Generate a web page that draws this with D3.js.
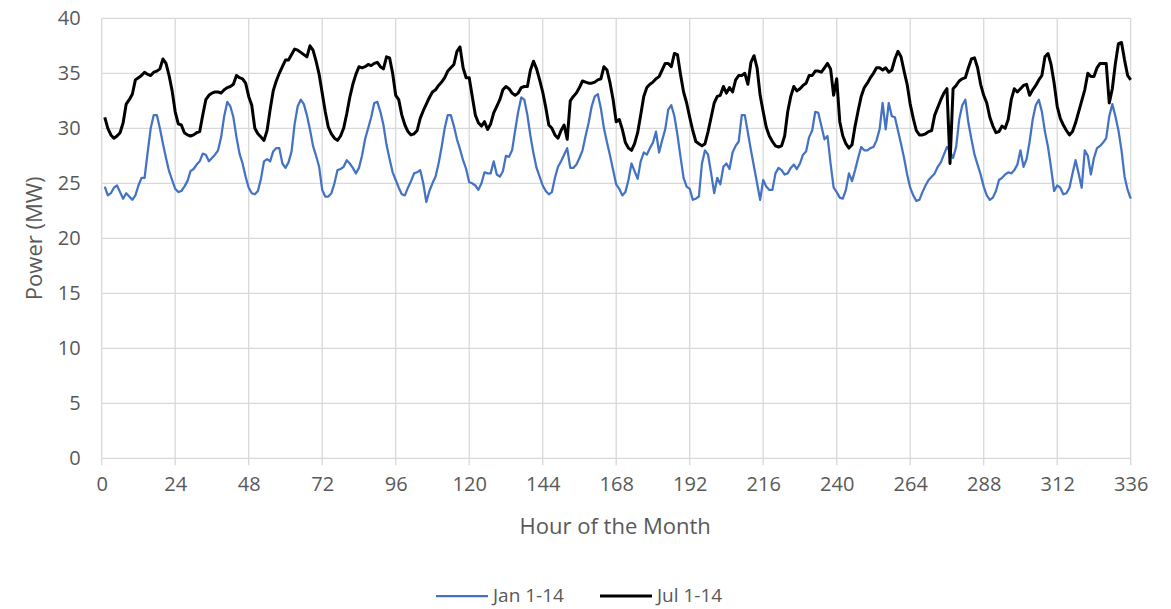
<!DOCTYPE html>
<html>
<head>
<meta charset="utf-8">
<script src="https://cdn.jsdelivr.net/npm/d3@7"></script>
<style>
  html, body { margin: 0; padding: 0; background: #fff; }
  svg { display: block; }
  text { font-family: "Open Sans", sans-serif; fill: #595959; }
</style>
</head>
<body>
<svg id="chart" width="1171" height="609"></svg>
<script>
// ---- data (hour 1..336) ----
const janSeries = [
  24.7,23.9,24.1,24.6,24.8,24.2,23.6,24.1,23.8,23.5,23.9,24.8,25.5,25.5,27.8,30.0,31.2,31.2,30.0,28.6,27.3,26.1,25.3,24.5,
  24.2,24.3,24.7,25.2,26.1,26.3,26.7,27.0,27.7,27.6,27.0,27.3,27.6,28.0,29.2,31.1,32.4,32.0,31.0,29.2,27.7,26.8,25.6,24.6,
  24.1,24.0,24.3,25.4,27.0,27.2,27.0,27.9,28.2,28.2,26.8,26.4,26.9,27.9,30.4,32.0,32.6,32.2,31.2,29.9,28.4,27.5,26.5,24.4,
  23.8,23.8,24.1,25.0,26.2,26.3,26.5,27.1,26.8,26.4,25.9,26.4,27.5,29.0,30.0,31.0,32.3,32.4,31.5,30.3,28.5,27.2,26.0,25.3,
  24.6,24.0,23.9,24.6,25.2,25.9,26.0,26.2,25.0,23.3,24.3,25.0,25.6,26.8,28.3,30.0,31.2,31.2,30.2,29.0,28.1,27.1,26.3,25.1,
  25.0,24.8,24.4,25.0,26.0,25.9,25.9,27.0,25.8,25.6,26.1,27.5,27.4,28.0,29.8,31.5,32.8,32.6,31.2,29.3,27.7,26.4,25.6,24.8,
  24.3,24.0,24.2,25.5,26.5,27.0,27.6,28.2,26.4,26.4,26.7,27.3,28.0,29.3,30.5,32.0,32.9,33.1,31.8,30.0,28.7,27.5,26.2,24.9,
  24.5,23.9,24.2,25.3,26.8,26.1,25.4,27.0,27.8,27.6,28.2,28.7,29.7,27.8,28.9,29.9,31.7,32.1,31.1,29.4,27.4,25.5,24.7,24.5,
  23.5,23.6,23.8,26.8,28.0,27.6,25.9,24.1,25.5,24.9,26.5,26.8,26.3,27.8,28.4,28.8,31.2,31.2,29.6,28.0,26.5,25.0,23.5,25.3,
  24.7,24.4,24.4,25.9,26.4,26.2,25.8,25.9,26.4,26.7,26.3,26.8,27.6,27.9,29.2,29.8,31.5,31.4,30.2,29.0,29.3,26.8,24.6,24.2,
  23.7,23.6,24.4,25.9,25.2,26.2,27.3,28.3,28.0,28.0,28.2,28.3,28.9,29.9,32.3,29.9,32.3,31.1,31.0,29.8,28.6,27.3,25.8,24.6,
  23.9,23.4,23.5,24.2,24.8,25.3,25.6,25.9,26.5,26.9,27.6,28.3,27.9,27.3,28.3,30.8,32.1,32.6,30.5,29.0,27.6,26.7,25.8,24.7,
  23.9,23.5,23.7,24.3,25.3,25.5,25.8,26.0,25.9,26.2,26.7,28.0,26.5,27.2,28.8,30.8,32.1,32.6,31.5,29.7,28.3,26.4,24.3,24.8,
  24.6,24.0,24.1,24.6,25.9,27.1,25.9,24.6,28.0,27.5,25.8,27.3,28.2,28.4,28.7,29.1,31.1,32.2,31.1,29.8,28.0,25.6,24.4,23.6
];
const julSeries = [
  31.0,30.0,29.4,29.1,29.3,29.6,30.5,32.2,32.6,33.1,34.4,34.6,34.8,35.1,34.9,34.8,35.1,35.2,35.4,36.3,35.9,34.8,33.4,31.5,
  30.4,30.3,29.6,29.4,29.3,29.4,29.6,29.7,31.2,32.6,33.0,33.2,33.3,33.3,33.2,33.5,33.7,33.8,34.0,34.8,34.6,34.5,34.1,32.9,
  32.1,30.0,29.5,29.2,28.9,29.8,31.7,33.4,34.3,35.0,35.6,36.2,36.2,36.7,37.2,37.1,36.9,36.7,36.5,37.5,37.1,36.1,34.9,33.2,
  31.5,30.1,29.5,29.1,28.9,29.3,30.0,31.3,32.8,34.0,34.9,35.6,35.5,35.6,35.8,35.7,35.9,36.0,35.6,35.4,36.5,36.4,35.0,33.0,
  32.6,31.2,30.3,29.7,29.4,29.5,29.8,30.9,31.6,32.2,32.8,33.3,33.5,33.9,34.2,34.6,35.2,35.5,35.8,37.0,37.4,35.5,34.6,34.6,
  32.9,31.2,30.5,30.2,30.6,29.9,30.4,31.4,32.0,32.6,33.5,33.8,33.6,33.2,33.0,33.2,33.7,33.8,33.8,35.3,36.1,35.4,34.4,33.3,
  31.9,30.3,30.0,29.4,29.1,29.8,30.3,29.0,32.5,32.9,33.2,33.7,34.3,34.2,34.1,34.1,34.2,34.4,34.5,35.6,35.3,34.1,32.6,30.6,
  30.8,29.9,28.7,28.2,28.0,28.6,29.6,31.2,32.9,33.7,34.0,34.2,34.5,34.7,35.3,35.9,35.9,35.6,36.8,36.7,34.9,33.3,32.3,31.0,
  29.8,28.8,28.6,28.4,28.6,29.7,31.0,32.3,32.9,33.0,33.8,33.2,33.7,33.3,34.4,34.8,34.8,35.0,34.0,36.0,36.6,35.5,33.0,31.5,
  30.1,29.3,28.8,28.4,28.3,28.4,29.3,31.5,32.9,33.8,33.4,33.6,33.9,34.1,34.8,34.8,35.2,35.2,35.1,35.5,35.9,35.4,33.0,34.5,
  30.6,29.3,28.6,28.2,28.5,30.2,31.6,32.9,33.7,34.1,34.6,35.0,35.5,35.5,35.3,35.5,35.1,35.3,36.3,37.0,36.5,35.2,34.0,32.2,
  30.9,29.8,29.4,29.4,29.5,29.7,29.8,31.2,31.9,32.6,33.2,33.6,26.8,33.6,33.9,34.3,34.5,34.6,35.5,36.3,36.4,35.5,34.0,33.0,
  32.3,31.0,30.2,29.6,29.7,30.2,30.0,30.8,32.6,33.6,33.3,33.6,33.9,34.0,33.0,33.5,33.9,34.4,34.8,36.5,36.8,35.8,34.1,32.0,
  30.9,30.3,29.8,29.4,29.7,30.5,31.5,32.5,33.5,35.0,34.7,34.7,35.5,35.9,35.9,35.9,32.3,33.6,35.9,37.7,37.8,36.2,34.8,34.4
];
const seriesNames = ["Jan 1-14", "Jul 1-14"];
const xTicks = [0, 24, 48, 72, 96, 120, 144, 168, 192, 216, 240, 264, 288, 312, 336];
const yTicks = [0, 5, 10, 15, 20, 25, 30, 35, 40];
const xTitle = "Hour of the Month";
const yTitle = "Power (MW)";

// ---- layout ----
const svg = d3.select("#chart");
const plotL = 101.7, plotR = 1130.7, plotT = 18.3, plotB = 458.3;
const x = d3.scaleLinear().domain([0, 336]).range([plotL, plotR]);
const y = d3.scaleLinear().domain([0, 40]).range([plotB, plotT]);
const gridColor = "#d9d9d9";

// horizontal gridlines
svg.append("g").selectAll("line").data(yTicks).join("line")
  .attr("x1", plotL).attr("x2", plotR)
  .attr("y1", d => y(d)).attr("y2", d => y(d))
  .attr("stroke", gridColor).attr("stroke-width", 1.3);

// vertical gridlines + outside tick marks
svg.append("g").selectAll("line").data(xTicks).join("line")
  .attr("x1", d => x(d)).attr("x2", d => x(d))
  .attr("y1", plotT).attr("y2", plotB + 7)
  .attr("stroke", gridColor).attr("stroke-width", 1.3);

// axes labels via d3 axes
const yAxis = svg.append("g").attr("transform", `translate(${plotL},0)`)
  .call(d3.axisLeft(y).tickValues(yTicks).tickSize(0).tickPadding(21));
yAxis.select(".domain").remove();
yAxis.selectAll("text").style("font-size", "20px").attr("fill", "#595959")
  .style("font-family", "'Open Sans', sans-serif");

const xAxis = svg.append("g").attr("transform", `translate(0,${plotB})`)
  .call(d3.axisBottom(x).tickValues(xTicks).tickSize(0).tickPadding(19));
xAxis.select(".domain").remove();
xAxis.selectAll("text").style("font-size", "20px").attr("fill", "#595959")
  .style("font-family", "'Open Sans', sans-serif");

// titles
svg.append("text").attr("x", (plotL + plotR) / 2 - 1).attr("y", 534)
  .attr("text-anchor", "middle").style("font-size", "22px").text(xTitle);
svg.append("text").attr("transform", `translate(42,${(plotT + plotB) / 2}) rotate(-90)`)
  .attr("text-anchor", "middle").style("font-size", "22px").text(yTitle);

// lines
const line = d3.line().x((d, i) => x(i + 1)).y(d => y(d));
svg.append("path").datum(janSeries).attr("d", line)
  .attr("fill", "none").attr("stroke", "#4472C4").attr("stroke-width", 2.25)
  .attr("stroke-linejoin", "round");
svg.append("path").datum(julSeries).attr("d", line)
  .attr("fill", "none").attr("stroke", "#000000").attr("stroke-width", 3)
  .attr("stroke-linejoin", "round");

// legend
const legend = [
  { name: seriesNames[0], color: "#4472C4", w: 2.25, x: 436 },
  { name: seriesNames[1], color: "#000000", w: 3, x: 600 }
];
const lg = svg.append("g");
legend.forEach(l => {
  lg.append("line").attr("x1", l.x).attr("x2", l.x + 52).attr("y1", 596).attr("y2", 596)
    .attr("stroke", l.color).attr("stroke-width", l.w);
  lg.append("text").attr("x", l.x + 57).attr("y", 602)
    .style("font-size", "19px").text(l.name);
});
</script>
</body>
</html>
